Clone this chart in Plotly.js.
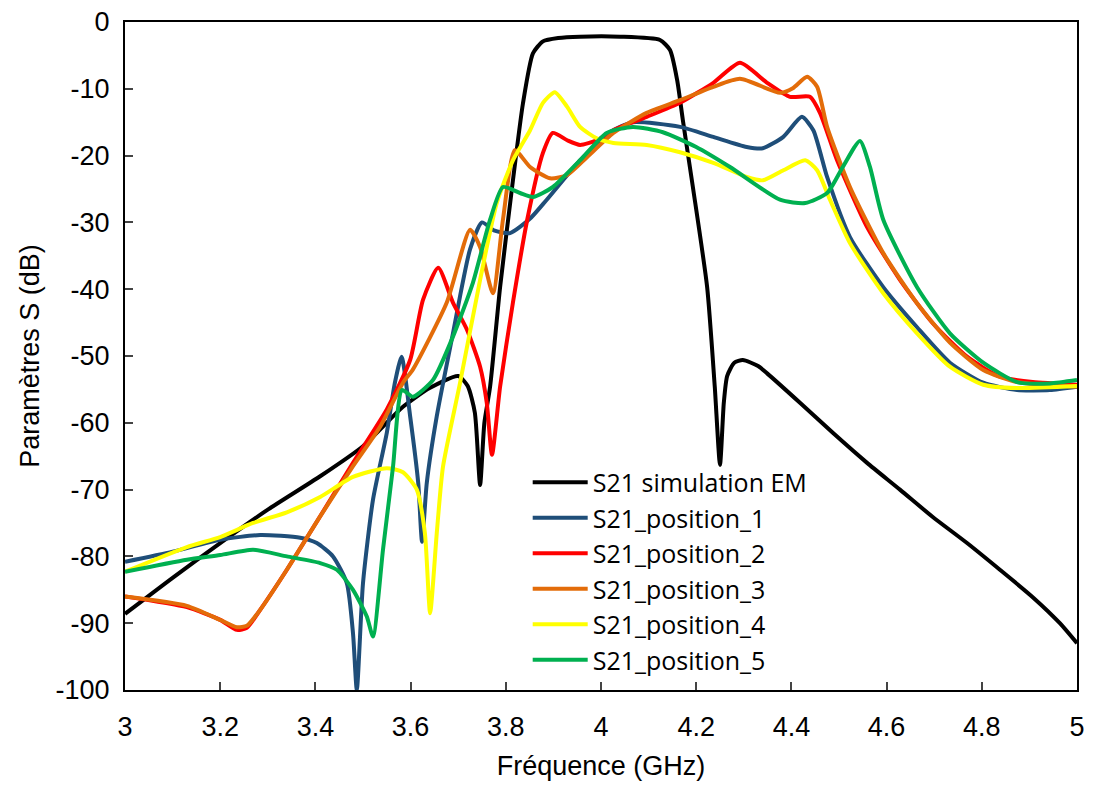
<!DOCTYPE html>
<html><head><meta charset="utf-8">
<script src="https://cdn.plot.ly/plotly-3.0.1.min.js"></script>
<style>html,body{margin:0;padding:0;background:#fff}#chart{width:1093px;height:785px}</style>
</head><body><div id="chart"></div>
<script>
const simX = [3.0,3.1,3.2,3.3,3.41,3.5,3.584,3.64,3.70,3.72,3.735,3.746,3.755,3.767,3.788,3.815,3.836,3.857,3.878,3.91,3.956,4.04,4.124,4.145,4.16,4.172,4.193,4.223,4.239,4.250,4.258,4.265,4.28,4.298,4.33,4.349,4.418,4.487,4.559,4.628,4.697,4.769,4.838,4.907,4.964,5.0];
const simY = [-88.6,-83.2,-78,-73,-68,-63.5,-57.6,-54.8,-53,-54.5,-58.5,-69.3,-60,-54.6,-39.7,-23.7,-12.2,-4.7,-2.9,-2.4,-2.2,-2.2,-2.7,-4.2,-8.7,-14.7,-24.7,-39.7,-54.6,-66.3,-57,-53,-51,-50.6,-51.5,-52.6,-57,-61.5,-66,-70,-74.1,-78,-82,-86.1,-90,-93];

const p1X = [3.0,3.1,3.2,3.284,3.368,3.403,3.437,3.466,3.479,3.487,3.50,3.521,3.55,3.567,3.581,3.599,3.616,3.624,3.634,3.655,3.689,3.725,3.750,3.775,3.809,3.85,3.886,3.956,4.026,4.067,4.166,4.236,4.306,4.34,4.383,4.422,4.446,4.475,4.523,4.593,4.664,4.733,4.803,4.874,4.943,5.0];
const p1Y = [-80.8,-79.3,-77.5,-76.8,-77.2,-78,-80,-84,-91.5,-100,-84,-71.5,-61.5,-54,-50.1,-59,-69,-77.8,-69,-59,-46.6,-34,-30,-31.2,-31.6,-29.5,-26.6,-20.7,-16.2,-15,-15.7,-17.2,-18.7,-18.9,-17.2,-14.2,-16.2,-23.2,-32.2,-39.7,-45.7,-51,-54,-55.1,-55.1,-54.6];

const p2X = [3.0,3.13,3.2,3.235,3.256,3.284,3.34,3.41,3.479,3.55,3.599,3.626,3.658,3.689,3.718,3.746,3.76,3.771,3.788,3.815,3.845,3.878,3.899,3.929,3.956,3.991,4.026,4.096,4.166,4.236,4.292,4.349,4.397,4.439,4.46,4.496,4.559,4.628,4.697,4.769,4.838,4.907,5.0];
const p2Y = [-86,-87.6,-89.5,-91,-90.7,-88,-82,-74,-66,-58,-50.6,-41.6,-36.8,-42,-46,-51.6,-57,-64.8,-54.6,-42,-29.6,-19.6,-16.6,-17.7,-18.4,-17.7,-16.2,-14.2,-12.1,-9.1,-6.1,-9.1,-11.2,-11.2,-13.6,-20.7,-30.7,-38.6,-45.1,-50.1,-53.1,-53.9,-54.3];

const p3X = [3.0,3.13,3.2,3.235,3.256,3.284,3.34,3.41,3.479,3.536,3.584,3.605,3.676,3.725,3.746,3.773,3.794,3.819,3.851,3.893,3.929,3.971,4.026,4.096,4.166,4.236,4.292,4.376,4.403,4.433,4.454,4.475,4.523,4.593,4.664,4.733,4.803,4.874,5.0];
const p3Y = [-86,-87.4,-89.5,-90.6,-90.4,-88,-82,-74,-66.5,-60.6,-54,-52,-42,-31.1,-33.7,-40.6,-29.6,-19.2,-21.7,-23.4,-22.9,-20.2,-16.6,-13.6,-11.7,-9.7,-8.5,-10.6,-9.9,-8.2,-9.7,-15.7,-24.7,-34.6,-42.1,-48,-52.1,-53.9,-54.6];

const p4X = [3.0,3.13,3.2,3.269,3.34,3.41,3.479,3.55,3.584,3.613,3.63,3.641,3.655,3.668,3.704,3.746,3.781,3.815,3.851,3.878,3.903,3.929,3.956,3.991,4.026,4.096,4.166,4.236,4.306,4.34,4.383,4.429,4.454,4.481,4.523,4.593,4.664,4.733,4.803,4.874,5.0];
const p4Y = [-82.3,-78.6,-77.1,-75,-73.4,-71.1,-68.1,-66.8,-67.4,-70,-76.5,-88.5,-76.5,-66.6,-54,-38.6,-27.1,-20.7,-16.2,-12.1,-10.5,-12.7,-15.7,-17.4,-18.1,-18.4,-19.5,-21.1,-23.2,-23.7,-22.2,-20.7,-22.2,-26.6,-33.1,-40.6,-46.6,-51.6,-54.3,-54.8,-54.5];

const p5X = [3.0,3.13,3.2,3.269,3.34,3.41,3.445,3.479,3.508,3.521,3.542,3.563,3.582,3.605,3.647,3.689,3.731,3.767,3.794,3.83,3.857,3.899,3.956,4.012,4.067,4.13,4.20,4.271,4.376,4.429,4.475,4.508,4.544,4.565,4.593,4.664,4.733,4.803,4.874,4.943,5.0];
const p5Y = [-82.3,-80.5,-79.8,-79,-80,-81,-82,-85,-89,-92,-79,-66.6,-55.1,-56.1,-53.6,-47.1,-39,-29.6,-24.7,-25.6,-26.2,-24.7,-20.7,-16.6,-15.7,-16.5,-18.7,-21.7,-26.6,-27.1,-25.6,-21.7,-17.8,-21.7,-29.6,-39.7,-46.6,-51,-53.9,-54.1,-53.6];

const names = ['S21 simulation EM','S21_position_1','S21_position_2','S21_position_3','S21_position_4','S21_position_5'];
const colors = ['#000000','#1F4E79','#FF0000','#E36C09','#FFFF00','#00B050'];
const xTickVals = [3,3.2,3.4,3.6,3.8,4,4.2,4.4,4.6,4.8,5];
const xTickText = ['3','3.2','3.4','3.6','3.8','4','4.2','4.4','4.6','4.8','5'];
const yTickVals = [0,-10,-20,-30,-40,-50,-60,-70,-80,-90,-100];
const yTickText = ['0','-10','-20','-30','-40','-50','-60','-70','-80','-90','-100'];

const xs = [simX,p1X,p2X,p3X,p4X,p5X];
const ys = [simY,p1Y,p2Y,p3Y,p4Y,p5Y];
const traces = names.map((n, i) => ({
  x: xs[i], y: ys[i], name: n, type: 'scatter', mode: 'lines',
  line: {color: colors[i], width: 4, shape: 'spline', smoothing: 0.6}
}));

const axFont = {family: '"Liberation Sans", Arial, sans-serif', size: 27, color: '#000'};
const layout = {
  width: 1093, height: 785,
  margin: {l: 125, r: 16, t: 22, b: 95},
  paper_bgcolor: '#fff', plot_bgcolor: '#fff',
  showlegend: true,
  legend: {x: 0.423, y: 0.345, xanchor: 'left', yanchor: 'top', bgcolor: 'rgba(0,0,0,0)',
           font: {family: '"Open Sans", Lato, sans-serif', size: 25, color: '#000'}, itemwidth: 55, tracegroupgap: 0},
  xaxis: {range: [3, 5], tickvals: xTickVals, ticktext: xTickText, ticks: 'inside', ticklen: 8, tickwidth: 2,
          ticklabelstandoff: 12,
          showline: true, linewidth: 2, linecolor: '#000', mirror: true, showgrid: false, zeroline: false,
          tickfont: axFont,
          title: {text: 'Fréquence (GHz)', font: axFont, standoff: 15}},
  yaxis: {range: [-100, 0], tickvals: yTickVals, ticktext: yTickText, ticks: 'inside', ticklen: 8, tickwidth: 2,
          ticklabelstandoff: 8,
          showline: true, linewidth: 2, linecolor: '#000', mirror: true, showgrid: false, zeroline: false,
          tickfont: axFont,
          title: {text: 'Paramètres S (dB)', font: axFont, standoff: 8}}
};
Plotly.newPlot('chart', traces, layout, {displayModeBar: false, staticPlot: true});
</script></body></html>
